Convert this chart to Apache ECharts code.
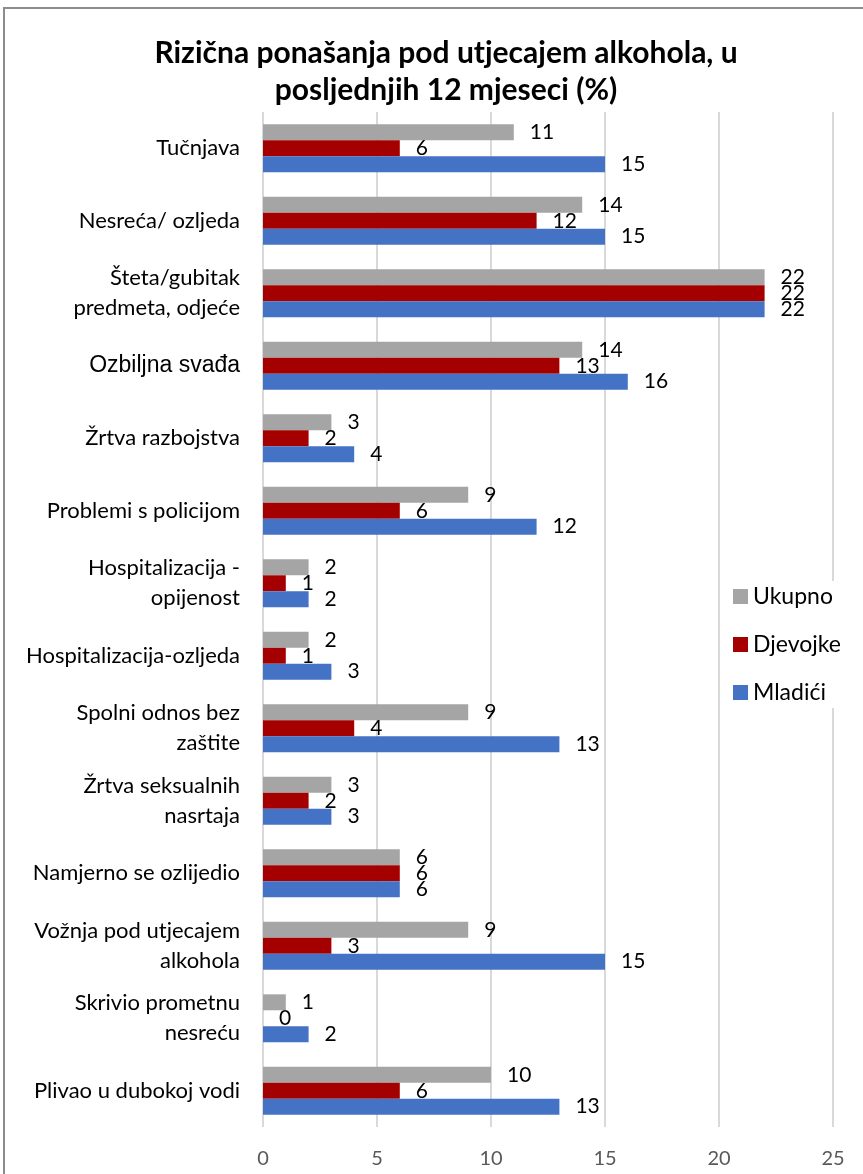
<!DOCTYPE html>
<html>
<head>
<meta charset="utf-8">
<script src="https://cdn.jsdelivr.net/npm/echarts@6/dist/echarts.min.js"></script>
<style>
  html, body { margin: 0; padding: 0; background: #fff; }
  #chart { width: 863px; height: 1174px; }
</style>
</head>
<body>
<div id="chart"></div>
<script>
const categories = [
  'Tučnjava',
  'Nesreća/ ozljeda',
  'Šteta/gubitak\npredmeta, odjeće',
  'Ozbiljna svađa',
  'Žrtva razbojstva',
  'Problemi s policijom',
  'Hospitalizacija -\nopijenost',
  'Hospitalizacija-ozljeda',
  'Spolni odnos bez\nzaštite',
  'Žrtva seksualnih\nnasrtaja',
  'Namjerno se ozlijedio',
  'Vožnja pod utjecajem\nalkohola',
  'Skrivio prometnu\nnesreću',
  'Plivao u dubokoj vodi'
]
const ukupno = [11, 14, 22, 14, 3, 9, 2, 2, 9, 3, 6, 9, 1, 10]
const djevojke = [6, 12, 22, 13, 2, 6, 1, 1, 4, 2, 6, 3, 0, 6]
const mladici = [15, 15, 22, 16, 4, 12, 2, 3, 13, 3, 6, 15, 2, 13]

const chart = echarts.init(document.getElementById('chart'))

const labelStyle = {
  show: true,
  position: 'right',
  distance: 16,
  fontFamily: 'Lato',
  fontSize: 21,
  color: '#000'
}

function makeSeries (name, data, color) {
  return {
    name: name,
    type: 'bar',
    data: data,
    barGap: '0%',
    barCategoryGap: '34%',
    itemStyle: { color: color },
    label: labelStyle
  }
}

chart.setOption({
  backgroundColor: '#fff',
  textStyle: { fontFamily: 'Lato' },
  title: {
    text: 'Rizična ponašanja pod utjecajem alkohola, u\nposljednjih 12 mjeseci (%)',
    left: 441,
    textAlign: 'center',
    top: 30,
    textStyle: {
      fontFamily: 'Lato',
      fontWeight: 'bold',
      fontSize: 30,
      lineHeight: 37,
      color: '#000'
    }
  },
  legend: {
    orient: 'vertical',
    left: 729,
    top: 581,
    icon: 'rect',
    itemWidth: 15,
    itemHeight: 15,
    itemGap: 25,
    backgroundColor: '#fff',
    padding: [4, 4, 4, 4],
    textStyle: { fontFamily: 'Lato', fontSize: 23, color: '#000' },
    data: ['Ukupno', 'Djevojke', 'Mladići']
  },
  grid: {
    left: 263,
    right: 30,
    top: 112,
    bottom: 47
  },
  xAxis: {
    type: 'value',
    min: 0,
    max: 25,
    interval: 5,
    axisLine: { show: false },
    axisTick: { show: false },
    axisLabel: { fontFamily: 'Lato', fontSize: 20, color: '#595959', margin: 22 },
    splitLine: { show: true, lineStyle: { color: '#d9d9d9', width: 2 } }
  },
  yAxis: {
    type: 'category',
    inverse: true,
    data: categories,
    axisLine: { show: false },
    axisTick: { show: false },
    axisLabel: {
      margin: 23,
      fontFamily: 'Lato',
      fontSize: 22,
      lineHeight: 30,
      color: '#000',
      align: 'right',
      formatter: function (v) {
        return v === 'Ozbiljna svađa' ? '{a|' + v + '}' : v
      },
      rich: {
        a: { fontFamily: 'Liberation Sans', fontSize: 23, color: '#000' }
      }
    }
  },
  graphic: [{
    type: 'rect',
    shape: { x: 4, y: 8, width: 880, height: 1200 },
    style: { fill: 'none', stroke: '#8c8c8c', lineWidth: 2 },
    silent: true
  }],
  series: [
    makeSeries('Ukupno', ukupno, '#a5a5a5'),
    makeSeries('Djevojke', djevojke, '#a50000'),
    makeSeries('Mladići', mladici, '#4472c4')
  ]
})
</script>
</body>
</html>
